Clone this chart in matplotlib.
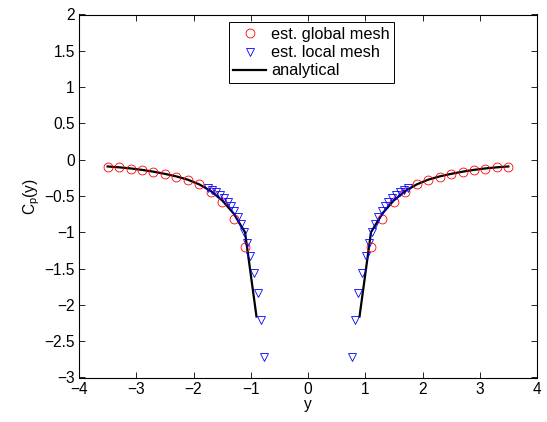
import matplotlib
matplotlib.use("Agg")
import matplotlib.pyplot as plt
from matplotlib.ticker import FuncFormatter

plt.rcParams['font.family'] = ['Liberation Sans', 'DejaVu Sans']

# global-mesh estimate (right half; left half mirrors it)
y_global = [1.1, 1.3, 1.5, 1.7, 1.9, 2.1, 2.3, 2.5, 2.7, 2.9, 3.1, 3.3, 3.5]
cp_global = [-1.20, -0.81, -0.58, -0.44, -0.335, -0.275, -0.234, -0.197,
             -0.165, -0.142, -0.124, -0.105, -0.096]

# local-mesh estimate (right half)
y_local = [0.76, 0.82, 0.88, 0.94, 1.01, 1.066, 1.11, 1.17, 1.23, 1.29,
           1.35, 1.40, 1.47, 1.53, 1.61, 1.68, 1.74]
cp_local = [-2.72, -2.21, -1.84, -1.556, -1.33, -1.15, -1.00, -0.886, -0.785,
            -0.707, -0.638, -0.578, -0.53, -0.486, -0.45, -0.417, -0.39]

# analytical pressure coefficient (right half)
y_exact = [0.9, 1.1, 1.3, 1.5, 1.7, 1.9, 2.1, 2.3, 2.5, 2.7, 2.9, 3.1, 3.3, 3.5]
cp_exact = [-2.16, -1.00, -0.74, -0.56, -0.43, -0.34, -0.275, -0.23, -0.195,
            -0.165, -0.14, -0.12, -0.105, -0.093]

x_ticks = [-4, -3, -2, -1, 0, 1, 2, 3, 4]
y_ticks = [-3, -2.5, -2, -1.5, -1, -0.5, 0, 0.5, 1, 1.5, 2]


def mirror(xs, vs):
    return [-x for x in xs[::-1]] + list(xs), list(vs[::-1]) + list(vs)


fig = plt.figure(figsize=(5.47, 4.22), dpi=100)
ax = fig.add_axes([79 / 547, 1 - 377.5 / 422, 458 / 547, 363 / 422])

gx, gv = mirror(y_global, cp_global)
lx, lv = mirror(y_local, cp_local)

ax.plot(gx, gv, linestyle='none', marker='o', markersize=6.4,
        markerfacecolor='none', markeredgecolor='red', markeredgewidth=0.6,
        label='est. global mesh', zorder=3)
ax.plot(lx, lv, linestyle='none', marker='v', markersize=6.4,
        markerfacecolor='none', markeredgecolor='blue', markeredgewidth=0.6,
        label='est. local mesh', zorder=3)

ex_l = [-x for x in y_exact]
ax.plot(ex_l, cp_exact, color='black', linewidth=1.6, label='analytical', zorder=2)
ax.plot(y_exact, cp_exact, color='black', linewidth=1.6, zorder=2)

ax.set_xlim(-4, 4)
ax.set_ylim(-3, 2)
ax.set_xticks(x_ticks)
ax.set_yticks(y_ticks)


def fmt(v, pos):
    s = '%g' % v
    return s.replace('-', '\u2212')


ax.xaxis.set_major_formatter(FuncFormatter(fmt))
ax.yaxis.set_major_formatter(FuncFormatter(fmt))
ax.tick_params(direction='in', length=4, width=0.6, labelsize=11.2,
               top=True, right=True, pad=3)
for sp in ax.spines.values():
    sp.set_linewidth(0.8)

ax.set_xlabel('y', fontsize=11.2, labelpad=0)
ax.set_ylabel(r'C$_{\mathregular{p}}$(y)', fontsize=11.2, labelpad=2)

leg = ax.legend(loc='upper center', bbox_to_anchor=(0.5076, 0.979),
                fancybox=False, edgecolor='black', framealpha=1,
                fontsize=11.7, handlelength=2.0, handletextpad=0.3,
                borderpad=0.3, labelspacing=0.2, borderaxespad=0)
leg.get_frame().set_linewidth(0.7)

fig.savefig('out.png', dpi=100)
